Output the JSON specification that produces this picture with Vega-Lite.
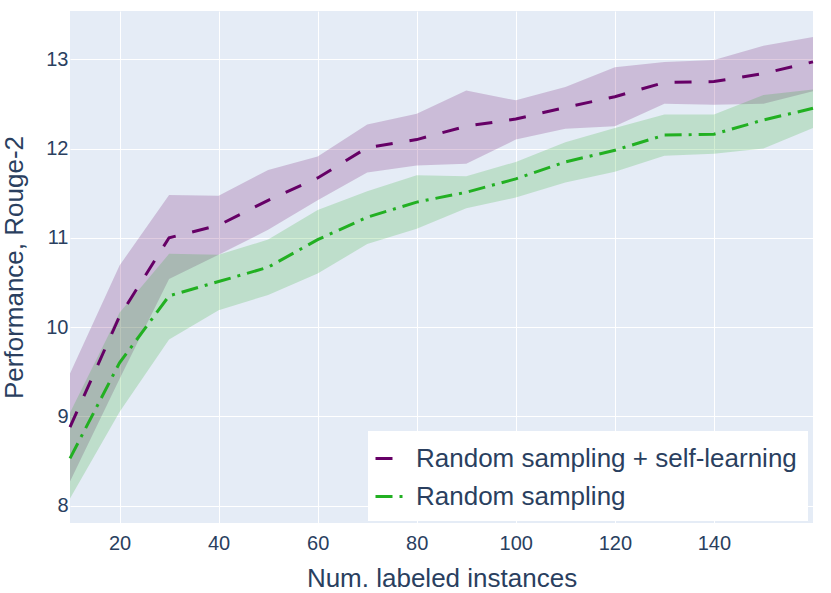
{
  "$schema": "https://vega.github.io/schema/vega-lite/v6.json",
  "width": 743,
  "height": 512,
  "autosize": {"type": "none"},
  "padding": {"left": 70, "top": 11, "right": 18, "bottom": 70},
  "background": "white",
  "config": {
    "view": {"fill": "#E5ECF6", "stroke": null},
    "font": "Liberation Sans",
    "axis": {
      "domain": false,
      "ticks": false,
      "gridColor": "white",
      "gridWidth": 1,
      "labelFont": "Liberation Sans",
      "labelFontSize": 20,
      "labelColor": "#2a3f5f",
      "titleFont": "Liberation Sans",
      "titleFontSize": 26,
      "titleFontWeight": "normal",
      "titleColor": "#2a3f5f"
    },
    "legend": {
      "labelFont": "Liberation Sans",
      "labelFontSize": 26,
      "labelColor": "#2a3f5f",
      "labelLimit": 0
    }
  },
  "data": {
    "values": [
      {"n": 10, "method": "Random sampling + self-learning", "mean": 8.88, "lo": 8.27, "hi": 9.48},
      {"n": 20, "method": "Random sampling + self-learning", "mean": 10.12, "lo": 9.42, "hi": 10.69},
      {"n": 30, "method": "Random sampling + self-learning", "mean": 11.0, "lo": 10.54, "hi": 11.48},
      {"n": 40, "method": "Random sampling + self-learning", "mean": 11.14, "lo": 10.81, "hi": 11.47},
      {"n": 50, "method": "Random sampling + self-learning", "mean": 11.42, "lo": 11.09, "hi": 11.76},
      {"n": 60, "method": "Random sampling + self-learning", "mean": 11.67, "lo": 11.42, "hi": 11.91},
      {"n": 70, "method": "Random sampling + self-learning", "mean": 12.01, "lo": 11.73, "hi": 12.27},
      {"n": 80, "method": "Random sampling + self-learning", "mean": 12.1, "lo": 11.81, "hi": 12.39},
      {"n": 90, "method": "Random sampling + self-learning", "mean": 12.25, "lo": 11.83, "hi": 12.65},
      {"n": 100, "method": "Random sampling + self-learning", "mean": 12.33, "lo": 12.1, "hi": 12.54},
      {"n": 110, "method": "Random sampling + self-learning", "mean": 12.46, "lo": 12.22, "hi": 12.69},
      {"n": 120, "method": "Random sampling + self-learning", "mean": 12.58, "lo": 12.25, "hi": 12.91},
      {"n": 130, "method": "Random sampling + self-learning", "mean": 12.74, "lo": 12.5, "hi": 12.97},
      {"n": 140, "method": "Random sampling + self-learning", "mean": 12.75, "lo": 12.49, "hi": 12.99},
      {"n": 150, "method": "Random sampling + self-learning", "mean": 12.84, "lo": 12.5, "hi": 13.15},
      {"n": 160, "method": "Random sampling + self-learning", "mean": 12.97, "lo": 12.64, "hi": 13.25},
      {"n": 10, "method": "Random sampling", "mean": 8.53, "lo": 8.08, "hi": 9.04},
      {"n": 20, "method": "Random sampling", "mean": 9.6, "lo": 9.05, "hi": 10.16},
      {"n": 30, "method": "Random sampling", "mean": 10.35, "lo": 9.86, "hi": 10.82},
      {"n": 40, "method": "Random sampling", "mean": 10.51, "lo": 10.19, "hi": 10.81},
      {"n": 50, "method": "Random sampling", "mean": 10.67, "lo": 10.36, "hi": 10.98},
      {"n": 60, "method": "Random sampling", "mean": 10.98, "lo": 10.6, "hi": 11.31},
      {"n": 70, "method": "Random sampling", "mean": 11.23, "lo": 10.93, "hi": 11.52},
      {"n": 80, "method": "Random sampling", "mean": 11.4, "lo": 11.1, "hi": 11.7},
      {"n": 90, "method": "Random sampling", "mean": 11.51, "lo": 11.33, "hi": 11.69},
      {"n": 100, "method": "Random sampling", "mean": 11.66, "lo": 11.45, "hi": 11.85},
      {"n": 110, "method": "Random sampling", "mean": 11.85, "lo": 11.62, "hi": 12.07},
      {"n": 120, "method": "Random sampling", "mean": 11.98, "lo": 11.74, "hi": 12.23},
      {"n": 130, "method": "Random sampling", "mean": 12.15, "lo": 11.92, "hi": 12.38},
      {"n": 140, "method": "Random sampling", "mean": 12.16, "lo": 11.94, "hi": 12.38},
      {"n": 150, "method": "Random sampling", "mean": 12.32, "lo": 12.0, "hi": 12.6},
      {"n": 160, "method": "Random sampling", "mean": 12.45, "lo": 12.23, "hi": 12.66}
    ]
  },
  "encoding": {
    "x": {
      "field": "n",
      "type": "quantitative",
      "scale": {"domain": [10, 160], "nice": false, "zero": false},
      "axis": {"title": "Num. labeled instances", "values": [20, 40, 60, 80, 100, 120, 140], "format": "d", "labelPadding": 10, "titlePadding": 12}
    }
  },
  "layer": [
    {
      "transform": [{"filter": "datum.method == 'Random sampling + self-learning'"}],
      "mark": {"type": "area", "color": "#660066", "opacity": 0.2},
      "encoding": {
        "y": {
          "field": "lo",
          "type": "quantitative",
          "scale": {"domain": [7.806, 13.54], "nice": false, "zero": false},
          "axis": {"title": "Performance, Rouge-2", "values": [8, 9, 10, 11, 12, 13], "format": "d", "labelPadding": 2, "titlePadding": 18}
        },
        "y2": {"field": "hi"}
      }
    },
    {
      "transform": [{"filter": "datum.method == 'Random sampling'"}],
      "mark": {"type": "area", "color": "#22aa22", "opacity": 0.2},
      "encoding": {
        "y": {"field": "lo", "type": "quantitative"},
        "y2": {"field": "hi"}
      }
    },
    {
      "mark": {"type": "line", "strokeWidth": 3},
      "encoding": {
        "y": {"field": "mean", "type": "quantitative"},
        "color": {
          "field": "method",
          "type": "nominal",
          "scale": {"domain": ["Random sampling + self-learning", "Random sampling"], "range": ["#660066", "#22b022"]},
          "legend": {
            "title": null,
            "orient": "none",
            "legendX": 298,
            "legendY": 420,
            "fillColor": "white",
            "padding": 11,
            "symbolType": "stroke",
            "symbolSize": 900,
            "symbolStrokeWidth": 3,
            "symbolOffset": -5,
            "labelOffset": 9,
            "rowPadding": 8
          }
        },
        "strokeDash": {
          "field": "method",
          "type": "nominal",
          "scale": {"domain": ["Random sampling + self-learning", "Random sampling"], "range": [[17, 17], [17, 7, 3, 7]]},
          "legend": null
        }
      }
    }
  ]
}
